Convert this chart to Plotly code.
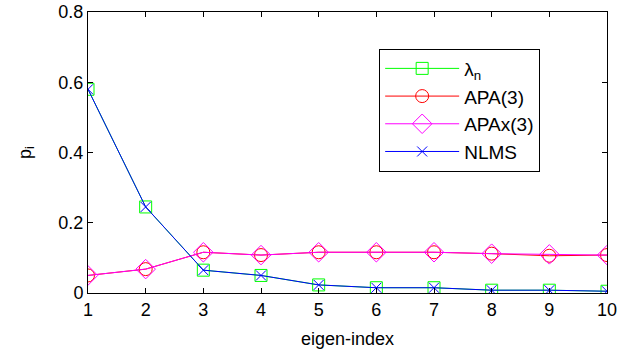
import plotly.graph_objects as go

idx = [1, 2, 3, 4, 5, 6, 7, 8, 9, 10]
lambda_n = [0.58, 0.245, 0.065, 0.05, 0.023, 0.015, 0.015, 0.008, 0.008, 0.005]
apa3 = [0.05, 0.068, 0.116, 0.108, 0.116, 0.116, 0.116, 0.112, 0.106, 0.108]
apax3 = [0.05, 0.068, 0.116, 0.108, 0.116, 0.116, 0.116, 0.112, 0.110, 0.108]
nlms = [0.58, 0.245, 0.065, 0.05, 0.023, 0.015, 0.015, 0.008, 0.008, 0.005]
yticks = [0, 0.2, 0.4, 0.6, 0.8]
yticklabels = ["0", "0.2", "0.4", "0.6", "0.8"]

FONT = "Liberation Sans, Arial, sans-serif"
FS = 18

fig = go.Figure()
fig.add_trace(go.Scatter(x=idx, y=lambda_n, name="λ<sub>n</sub>", mode="lines+markers",
                         line=dict(color="#00ff00", width=1),
                         marker=dict(symbol="square-open", size=12, color="#00ff00", line=dict(width=1))))
fig.add_trace(go.Scatter(x=idx, y=apa3, name="APA(3)", mode="lines+markers",
                         line=dict(color="#ff0000", width=1),
                         marker=dict(symbol="circle-open", size=13, color="#ff0000", line=dict(width=1))))
fig.add_trace(go.Scatter(x=idx, y=apax3, name="APAx(3)", mode="lines+markers",
                         line=dict(color="#ff00ff", width=1),
                         marker=dict(symbol="diamond-open", size=15, color="#ff00ff", line=dict(width=1))))
fig.add_trace(go.Scatter(x=idx, y=nlms, name="NLMS", mode="lines+markers",
                         line=dict(color="#0000ff", width=1),
                         marker=dict(symbol="x-thin-open", size=10, color="#0000ff", line=dict(width=1, color="#0000ff"))))

axis_common = dict(showgrid=False, zeroline=False, showline=True, linecolor="black", linewidth=1,
                   mirror="ticks", ticks="inside", ticklen=5, tickcolor="black", automargin=False,
                   tickfont=dict(family=FONT, size=FS, color="black"))

fig.update_layout(
    width=630, height=354,
    margin=dict(l=88, r=23, t=12, b=61),
    paper_bgcolor="white", plot_bgcolor="white",
    font=dict(family=FONT, size=FS, color="black"),
    xaxis=dict(range=[1, 10], tickvals=idx, title=dict(text="eigen-index", standoff=13,
               font=dict(family=FONT, size=FS)), **axis_common),
    yaxis=dict(range=[0, 0.8], tickvals=yticks, ticktext=yticklabels,
               title=dict(text="p<sub>i</sub>", standoff=22, font=dict(family=FONT, size=FS)), **axis_common),
    legend=dict(x=0.561, y=0.87, xanchor="left", yanchor="top", bordercolor="black", borderwidth=1,
                bgcolor="white", font=dict(family=FONT, size=19), tracegroupgap=0, itemwidth=74),
    showlegend=True,
)

fig.write_html("out.html", config={"displayModeBar": False},
               post_script="document.body.style.margin='0';document.body.style.overflow='hidden';")
